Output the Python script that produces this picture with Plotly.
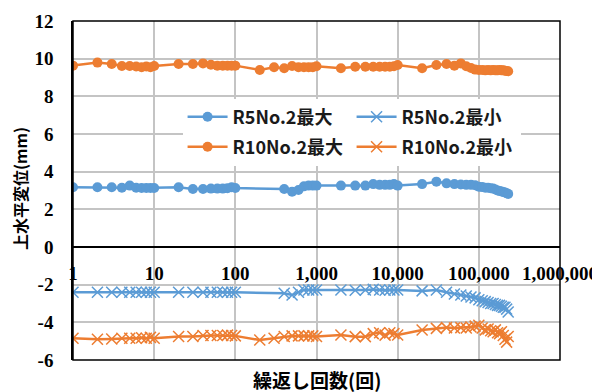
import plotly.graph_objects as go

cycles = ([1, 2, 3, 4, 5, 6, 7, 8, 9, 10,
           20, 30, 40, 50, 60, 70, 80, 90, 100,
           200, 300, 400, 500, 600, 700, 800, 900, 1000,
           2000, 3000, 4000, 5000, 6000, 7000, 8000, 9000, 10000,
           20000, 30000, 40000, 50000, 60000, 70000, 80000, 90000, 100000,
           110000, 120000, 130000, 140000, 150000, 160000, 170000, 180000,
           190000, 200000, 210000, 220000, 230000])
cycles_r5 = [c for c in cycles if c not in (200, 300)]

r10_max = [9.63, 9.79, 9.72, 9.61, 9.61, 9.58, 9.55, 9.58, 9.55, 9.61,
           9.72, 9.72, 9.75, 9.68, 9.63, 9.63, 9.63, 9.63, 9.63,
           9.40, 9.54, 9.49, 9.61, 9.55, 9.55, 9.55, 9.55, 9.60,
           9.49, 9.57, 9.57, 9.57, 9.57, 9.57, 9.57, 9.60, 9.66,
           9.49, 9.66, 9.72, 9.63, 9.75, 9.60, 9.50, 9.42, 9.40,
           9.40, 9.38, 9.40, 9.38, 9.40, 9.38, 9.38, 9.40, 9.38, 9.38, 9.36, 9.35, 9.33]

r10_min = [-4.85, -4.90, -4.88, -4.85, -4.85, -4.85, -4.82, -4.85, -4.80, -4.85,
           -4.75, -4.75, -4.70, -4.70, -4.70, -4.70, -4.68, -4.70, -4.72,
           -4.94, -4.85, -4.75, -4.72, -4.72, -4.72, -4.72, -4.72, -4.75,
           -4.67, -4.76, -4.76, -4.60, -4.55, -4.68, -4.55, -4.60, -4.67,
           -4.41, -4.32, -4.28, -4.30, -4.28, -4.30, -4.25, -4.20, -4.15,
           -4.30, -4.40, -4.35, -4.45, -4.50, -4.40, -4.55, -4.60, -4.50, -4.70, -4.90, -5.05, -4.75]

r5_max = [3.17, 3.17, 3.17, 3.15, 3.26, 3.15, 3.13, 3.13, 3.13, 3.13,
          3.17, 3.08, 3.08, 3.10, 3.10, 3.10, 3.12, 3.17, 3.13,
          3.08, 2.94, 3.03, 3.22, 3.26, 3.26, 3.26,
          3.26, 3.26, 3.26, 3.34, 3.30, 3.30, 3.30, 3.34, 3.26,
          3.34, 3.47, 3.38, 3.34, 3.32, 3.30, 3.30, 3.28, 3.20,
          3.18, 3.15, 3.15, 3.12, 3.10, 3.05, 3.00, 2.98, 2.95, 2.92, 2.90, 2.86, 2.82]

r5_min = [-2.40, -2.40, -2.40, -2.40, -2.40, -2.40, -2.40, -2.40, -2.40, -2.40,
          -2.40, -2.40, -2.40, -2.40, -2.40, -2.40, -2.40, -2.40, -2.40,
          -2.46, -2.55, -2.40, -2.28, -2.28, -2.28, -2.28,
          -2.28, -2.30, -2.28, -2.25, -2.28, -2.30, -2.28, -2.28, -2.28,
          -2.33, -2.28, -2.40, -2.50, -2.55, -2.60, -2.65, -2.70, -2.80,
          -2.85, -2.90, -2.95, -3.00, -3.00, -3.05, -3.10, -3.10, -3.15, -3.20, -3.20, -3.30, -3.45]

x_tickvals = [1, 10, 100, 1000, 10000, 100000, 1000000]
x_ticktext = ["1", "10", "100", "1,000", "10,000", "100,000", "1,000,000"]
y_tickvals = [-6, -4, -2, 0, 2, 4, 6, 8, 10, 12]
y_ticktext = ["-6", "-4", "-2", "0", "2", "4", "6", "8", "10", "12"]

BLUE = "#5B9BD5"
ORANGE = "#ED7D31"
SERIF = "Liberation Serif, Times New Roman, serif"
CJK = "Noto Sans CJK JP"

fig = go.Figure()
fig.add_trace(go.Scatter(x=cycles_r5, y=r5_max, name="<b>R5No.2最大</b>", mode="lines+markers",
                         legend="legend",
                         line=dict(color=BLUE, width=2.5),
                         marker=dict(symbol="circle", size=10, color=BLUE)))
fig.add_trace(go.Scatter(x=cycles_r5, y=r5_min, name="<b>R5No.2最小</b>", mode="lines+markers",
                         legend="legend",
                         line=dict(color=BLUE, width=2.5),
                         marker=dict(symbol="x-thin", size=11, color=BLUE,
                                     line=dict(color=BLUE, width=1.5))))
fig.add_trace(go.Scatter(x=cycles, y=r10_max, name="<b>R10No.2最大</b>", mode="lines+markers",
                         legend="legend2",
                         line=dict(color=ORANGE, width=2.5),
                         marker=dict(symbol="circle", size=10, color=ORANGE)))
fig.add_trace(go.Scatter(x=cycles, y=r10_min, name="<b>R10No.2最小</b>", mode="lines+markers",
                         legend="legend2",
                         line=dict(color=ORANGE, width=2.5),
                         marker=dict(symbol="x-thin", size=11, color=ORANGE,
                                     line=dict(color=ORANGE, width=1.5))))

# page body has an 8px default margin, so the figure is 8px smaller and shifted
legend_common = dict(orientation="h", xanchor="left", yanchor="middle",
                     entrywidth=114, entrywidthmode="pixels",
                     bgcolor="white", borderwidth=0, itemwidth=40,
                     font=dict(family=CJK, size=18, color="#1a1a1a"))

fig.update_layout(
    width=592, height=384,
    margin=dict(l=65, r=40, t=13, b=32),
    paper_bgcolor="white", plot_bgcolor="white",
    showlegend=True,
    legend=dict(x=0.225, y=(360 - 117) / 339, **legend_common),
    legend2=dict(x=0.225, y=(360 - 147) / 339, **legend_common),
    xaxis=dict(type="log", range=[0, 6], tickvals=x_tickvals,
               ticktext=["<b>%s</b>" % t for t in x_ticktext],
               anchor="free", position=1/3, showline=True, linecolor="black", linewidth=1.5,
               showgrid=True, gridcolor="#C4C4C4", gridwidth=1.5, ticks="",
               automargin=False, ticklabelstandoff=9,
               tickfont=dict(family=SERIF, size=19, color="black"),
               zeroline=False),
    yaxis=dict(range=[-6, 12], tickvals=y_tickvals,
               ticktext=["<b>%s</b>" % t for t in y_ticktext],
               showline=True, linecolor="black",
               linewidth=1.5, showgrid=True, gridcolor="#C4C4C4", gridwidth=1.5,
               ticks="", zeroline=False, automargin=False, ticklabelstandoff=14,
               tickfont=dict(family=SERIF, size=19, color="black")),
    shapes=[dict(type="rect", xref="paper", yref="paper", x0=0, x1=1, y0=0, y1=1,
                 line=dict(color="black", width=1.5), layer="above")],
    annotations=[
        dict(text="<b>繰返し回数(回)</b>", xref="paper", yref="paper", x=0.5,
             y=(352 - 371) / 339, xanchor="center", yanchor="middle", showarrow=False,
             font=dict(family=CJK, size=19, color="black")),
        dict(text="<b>上水平変位(mm)</b>", xref="paper", yref="paper",
             x=(12 - 65) / 487, y=(352 - 181) / 339, xanchor="center", yanchor="middle",
             textangle=-90, showarrow=False,
             font=dict(family=CJK, size=16, color="black")),
    ],
)

fig.write_html("out.html")
